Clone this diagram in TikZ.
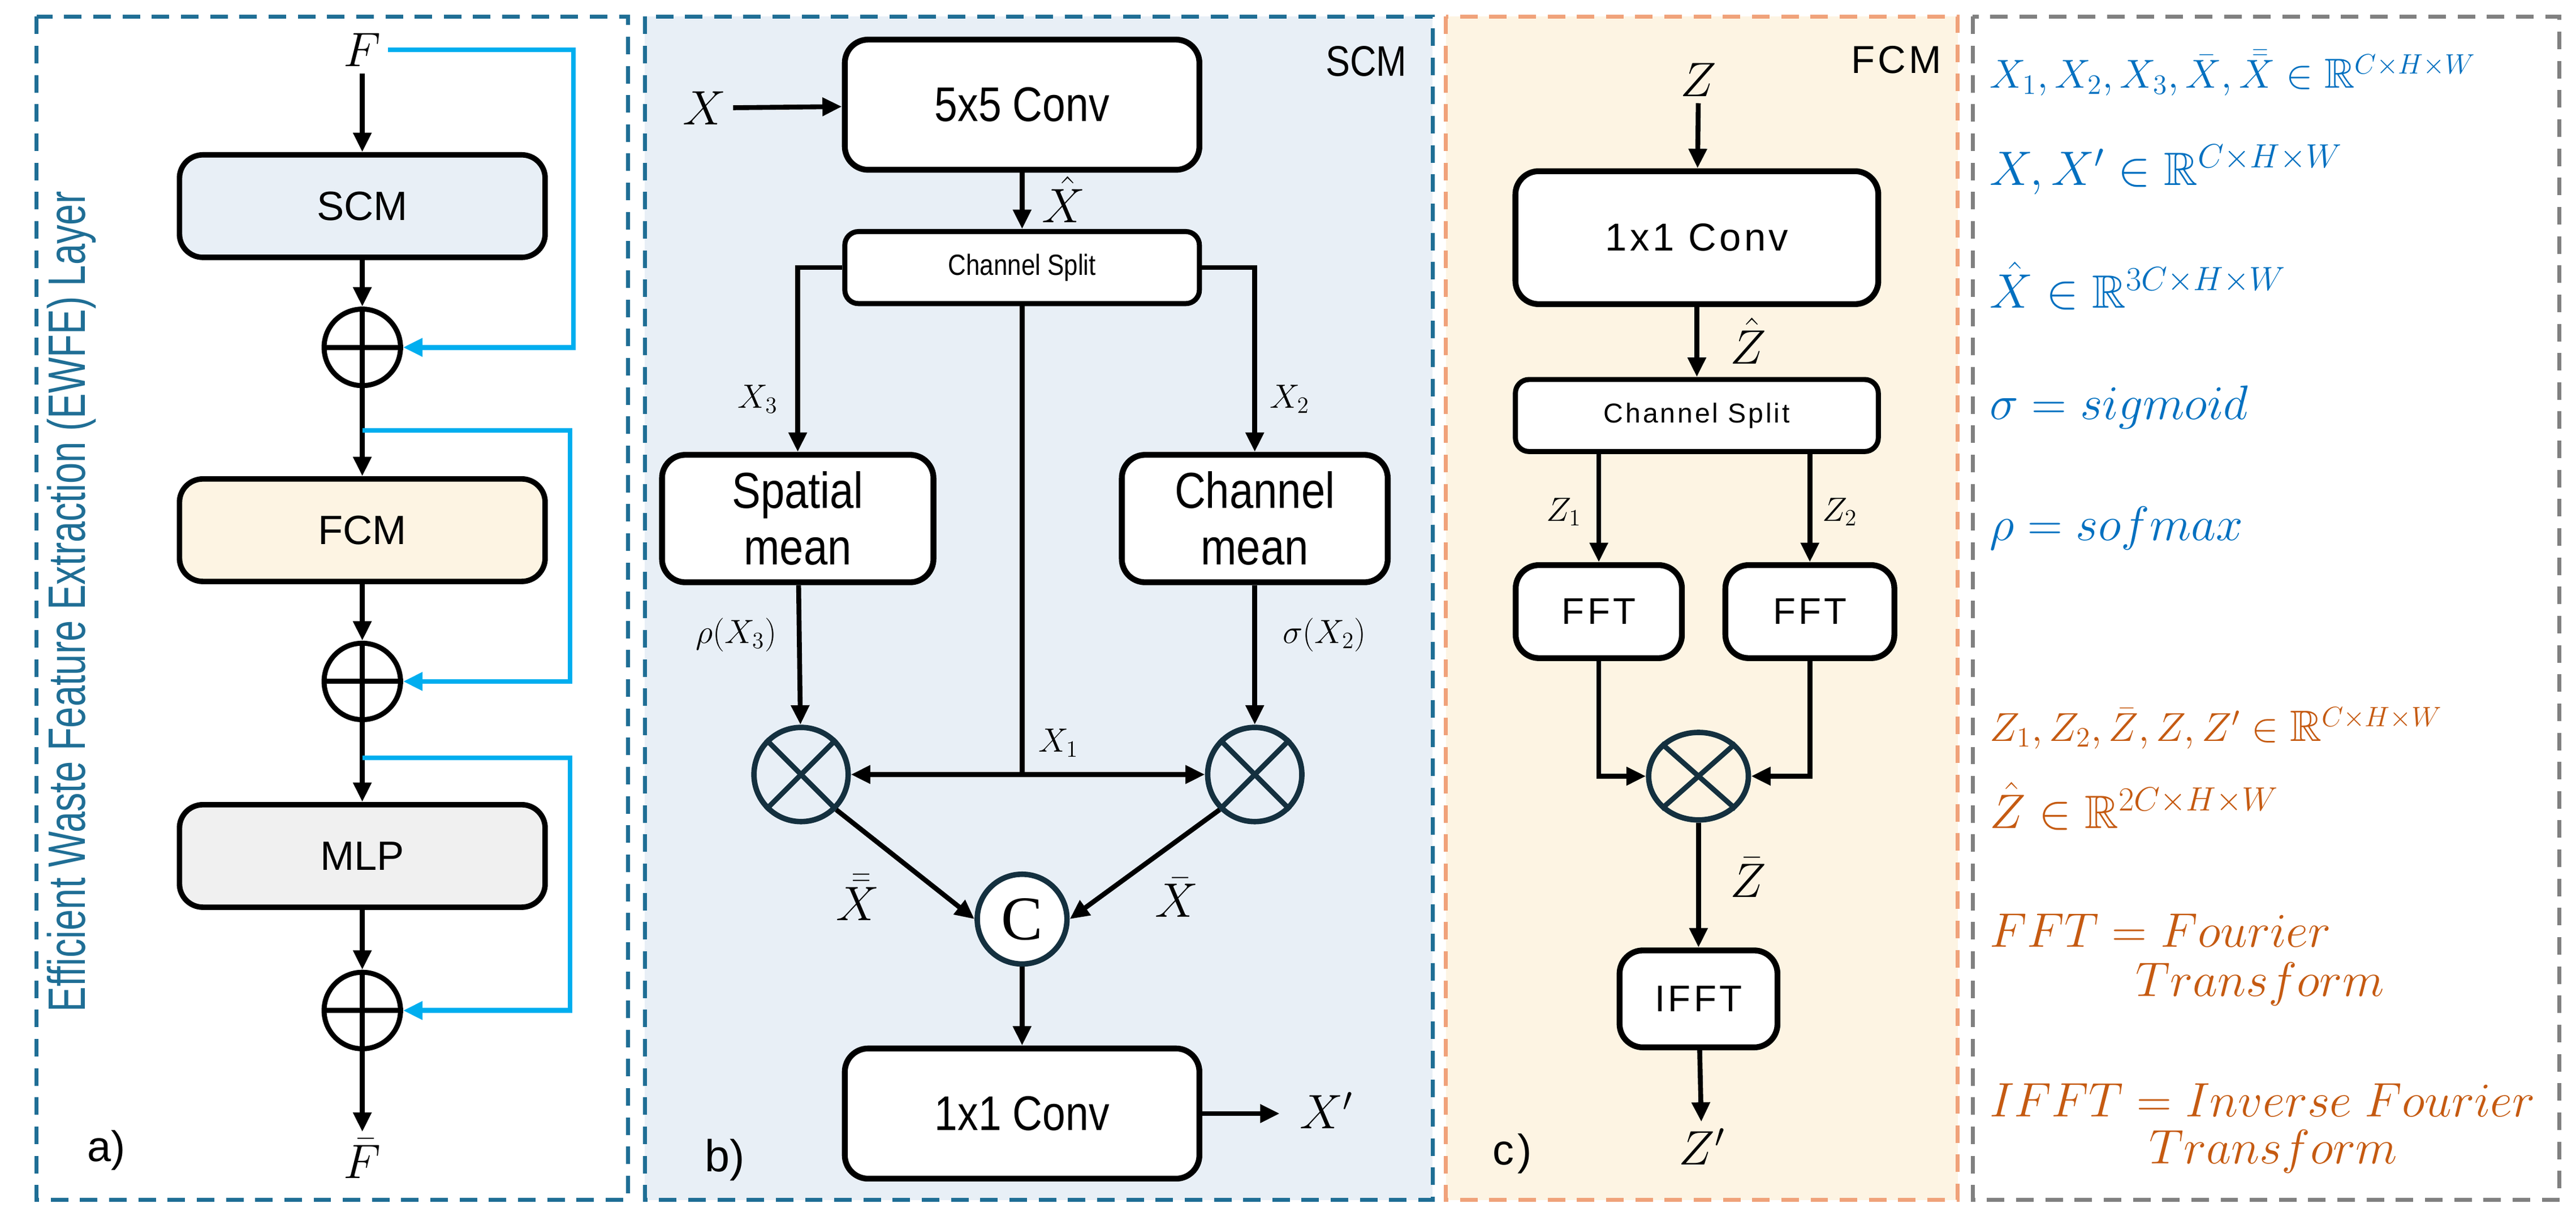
\documentclass[tikz,border=0pt]{standalone}
\usepackage{amsmath,amssymb}
\usepackage{fontspec}
\setmainfont{Liberation Sans}
\newfontfamily\narrowf[FakeStretch=0.85]{Liberation Sans}
\newfontfamily\vnarrow[FakeStretch=0.72]{Liberation Sans}
\newfontfamily\widef[LetterSpace=8]{Liberation Sans}
\newfontfamily\serifc{Liberation Serif}
\usetikzlibrary{arrows.meta,calc,shapes.geometric}
\definecolor{tealb}{HTML}{1F6E95}
\definecolor{scmfill}{HTML}{E8EFF6}
\definecolor{fcmfill}{HTML}{FDF4E3}
\definecolor{fcmline}{HTML}{F0A27A}
\definecolor{mlpfill}{HTML}{F0F0F0}
\definecolor{skyb}{HTML}{00AEEF}
\definecolor{opdark}{HTML}{14303F}
\definecolor{mblue}{HTML}{0070C0}
\definecolor{morange}{HTML}{C55A11}
\begin{document}
\begin{tikzpicture}[x=0.03cm,y=-0.03cm,
  panel/.style={dashed,line width=2pt,dash pattern=on 9pt off 6pt},
  box/.style={draw,line width=3pt,rounded corners=12pt,fill=white,inner sep=0pt},
  arr/.style={line width=2.5pt,-{Triangle[length=10pt,width=9pt]}},
  ln/.style={line width=2.5pt},
  barr/.style={line width=2.5pt,skyb,-{Triangle[length=10pt,width=9pt]}},
  opc/.style={circle,draw=opdark,line width=2.8pt,minimum size=1.7cm,inner sep=0pt,fill=none},
  lab/.style={font=\fontsize{18}{20}\selectfont},
  mlab/.style={font=\fontsize{23}{25}\selectfont}]
\useasboundingbox (0,0) rectangle (1550,729);
% ---------- panel a
\draw[panel,tealb] (22,10) rectangle (378,722);
\node[rotate=90,text=tealb,font=\vnarrow\fontsize{27}{30}\selectfont] (vt) at (43,362) {Efficient Waste Feature Extraction (EWFE) Layer};
\node[mlab] (F) at (218,30) {$F$};
\node[box,fill=scmfill,line width=2.8pt,minimum width=6.6cm,minimum height=1.85cm,font=\fontsize{21}{23}\selectfont] (scm) at (218,124) {SCM};
\node[box,fill=fcmfill,line width=2.8pt,minimum width=6.6cm,minimum height=1.85cm,font=\fontsize{21}{23}\selectfont] (fcm) at (218,319) {FCM};
\node[box,fill=mlpfill,line width=2.8pt,minimum width=6.6cm,minimum height=1.85cm,font=\fontsize{21}{23}\selectfont] (mlp) at (218,515) {MLP};
\foreach \n/\y in {p1/209,p2/410,p3/608}{
  \node[circle,draw,line width=2.6pt,minimum size=1.38cm,inner sep=0pt] (\n) at (218,\y) {};
  \draw[line width=2.6pt] (\n.west) -- (\n.east);
}
\node[mlab] (Fb) at (218,697) {$\bar{F}$};
\draw[arr] (F) -- (scm);
\draw[arr] (scm) -- (p1.north);
\draw[arr] (p1.north) -- (fcm);
\draw[arr] (fcm) -- (p2.north);
\draw[arr] (p2.north) -- (mlp);
\draw[arr] (mlp) -- (p3.north);
\draw[arr] (p3.north) -- (Fb);
\coordinate (s2) at (218,259);
\coordinate (s3) at (218,456);
\draw[barr] (F.east) -| (345,209) -- (p1.east);
\draw[barr] (s2) -- (343,259) |- (p2.east);
\draw[barr] (s3) -- (343,456) |- (p3.east);
\node[font=\fontsize{22}{24}\selectfont] (la) at (64,692) {a)};
% ---------- panel b
\draw[panel,tealb,fill=scmfill] (388,10) rectangle (862,722);
\node[font=\narrowf\fontsize{22}{24}\selectfont] (scmt) at (822,37) {SCM};
\node[mlab] (X) at (424,65) {$X$};
\node[box,minimum width=6.4cm,minimum height=2.35cm,font=\narrowf\fontsize{25}{27}\selectfont] (c55) at (615,63) {5x5 Conv};
\node[box,line width=2.6pt,rounded corners=7pt,minimum width=6.4cm,minimum height=1.3cm,font=\narrowf\fontsize{15}{17}\selectfont] (cs) at (615,161) {Channel Split};
\node[box,minimum width=4.9cm,minimum height=2.3cm,align=center,font=\narrowf\fontsize{26}{29}\selectfont] (sm) at (480,312) {Spatial\\mean};
\node[box,minimum width=4.8cm,minimum height=2.3cm,align=center,font=\narrowf\fontsize{26}{29}\selectfont] (cm) at (755,312) {Channel\\mean};
\node[opc] (o1) at (482,466) {};
\node[opc] (o2) at (755,466) {};
\foreach \n in {o1,o2}{
  \draw[opdark,line width=2.6pt] (\n.north west) -- (\n.south east);
  \draw[opdark,line width=2.6pt] (\n.north east) -- (\n.south west);}
\node[circle,draw=opdark,line width=2.8pt,fill=white,minimum size=1.62cm,inner sep=0pt,font=\serifc\fontsize{32}{32}\selectfont] (cc) at (615,553) {C};
\node[box,minimum width=6.4cm,minimum height=2.35cm,font=\narrowf\fontsize{25}{27}\selectfont] (c11) at (615,670) {1x1 Conv};
\coordinate (bx1) at (615,466);
\coordinate (xend) at (770,670);
\node[mlab,anchor=west] (Xp) at (778,668) {$X'$};
\draw[arr] (X) -- (c55);
\draw[arr] (c55) -- (cs);
\draw[arr] (cs.west) -| (sm.north);
\draw[arr] (cs.east) -| (cm.north);
\draw[ln] (cs.south) -- (bx1);
\draw[arr] (bx1) -- (o1.east);
\draw[arr] (bx1) -- (o2.west);
\draw[arr] (sm) -- (o1);
\draw[arr] (cm) -- (o2);
\draw[arr] (o1.south east) -- (cc.west);
\draw[arr] (o2.south west) -- (cc.east);
\draw[arr] (cc) -- (c11);
\draw[arr] (c11.east) -- (xend);
\node[mlab] at (640,120) {$\hat{X}$};
\node[lab] at (456,240) {$X_3$};
\node[lab] at (776,240) {$X_2$};
\node[lab] at (443,382) {$\rho(X_3)$};
\node[lab] at (797,382) {$\sigma(X_2)$};
\node[lab] at (637,447) {$X_1$};
\node[mlab] at (516,540) {$\bar{\bar{X}}$};
\node[mlab] at (708,540) {$\bar{X}$};
\node[font=\fontsize{23}{24}\selectfont] (lb) at (436,698) {b)};
% ---------- panel c
\draw[panel,fcmline,fill=fcmfill] (870,10) rectangle (1178,722);
\node[font=\widef\fontsize{20}{22}\selectfont] (fcmt) at (1141,36) {FCM};
\node[mlab] (Z) at (1022,48) {$Z$};
\node[box,minimum width=6.55cm,minimum height=2.4cm,font=\widef\fontsize{20}{22}\selectfont] (z11) at (1021,143) {1x1 Conv};
\node[box,line width=2.6pt,rounded corners=7pt,minimum width=6.55cm,minimum height=1.3cm,font=\widef\fontsize{14}{16}\selectfont] (zcs) at (1021,250) {Channel Split};
\node[box,minimum width=3cm,minimum height=1.68cm,font=\widef\fontsize{19}{21}\selectfont] (f1) at (962,368) {FFT};
\node[box,minimum width=3.05cm,minimum height=1.68cm,font=\widef\fontsize{19}{21}\selectfont] (f2) at (1089,368) {FFT};
\node[ellipse,draw=opdark,line width=2.8pt,minimum width=1.8cm,minimum height=1.58cm,inner sep=0pt] (zo) at (1022,467) {};
\draw[opdark,line width=2.6pt] (zo.north west) -- (zo.south east);
\draw[opdark,line width=2.6pt] (zo.north east) -- (zo.south west);
\node[box,minimum width=2.85cm,minimum height=1.75cm,font=\widef\fontsize{19}{21}\selectfont] (ifft) at (1022,601) {IFFT};
\node[mlab] (Zp) at (1024,690) {$Z'$};
\draw[arr] (Z) -- (z11);
\draw[arr] (z11) -- (zcs);
\draw[arr] (zcs.south -| f1) -- (f1);
\draw[arr] (zcs.south -| f2.north) -- (f2.north);
\draw[arr] (f1) |- (zo.west);
\draw[arr] (f2) |- (zo.east);
\draw[arr] (zo) -- (ifft);
\draw[arr] (ifft) -- (Zp);
\node[mlab] at (1052,205) {$\hat{Z}$};
\node[lab] at (941,308) {$Z_1$};
\node[lab] at (1107,308) {$Z_2$};
\node[mlab] at (1052,528) {$\bar{Z}$};
\node[font=\widef\fontsize{22}{24}\selectfont] (lc) at (910,694) {c)};
% ---------- panel d
\draw[panel,gray] (1187,10) rectangle (1540,722);
\begin{scope}[every node/.style={anchor=west,inner sep=0pt,font=\fontsize{24}{26}\selectfont}]
\node[text=mblue,font=\fontsize{21.5}{24}\selectfont] (d1) at (1197,44) {$X_1,X_2,X_3,\bar{X},\bar{\bar{X}}\in\mathbb{R}^{C\times H\times W}$};
\node[text=mblue] (d2) at (1197,102) {$X,X'\in\mathbb{R}^{C\times H\times W}$};
\node[text=mblue] (d3) at (1197,172) {$\hat{X}\in\mathbb{R}^{3C\times H\times W}$};
\node[text=mblue] (d4) at (1197,245) {$\sigma = sigmoid$};
\node[text=mblue] (d5) at (1197,318) {$\rho = sofmax$};
\node[text=morange,font=\fontsize{22.5}{24}\selectfont] (d6) at (1197,438) {$Z_1,Z_2,\bar{Z},Z,Z'\in\mathbb{R}^{C\times H\times W}$};
\node[text=morange] (d7) at (1197,485) {$\hat{Z}\in\mathbb{R}^{2C\times H\times W}$};
\node[text=morange] (d8) at (1197,560) {$FFT = Fourier$};
\node[text=morange] (d9) at (1285,592) {$Transform$};
\node[text=morange] (d10) at (1197,662) {$IFFT = Inverse\ Fourier$};
\node[text=morange] (d11) at (1293,693) {$Transform$};
\end{scope}
\end{tikzpicture}
\end{document}
